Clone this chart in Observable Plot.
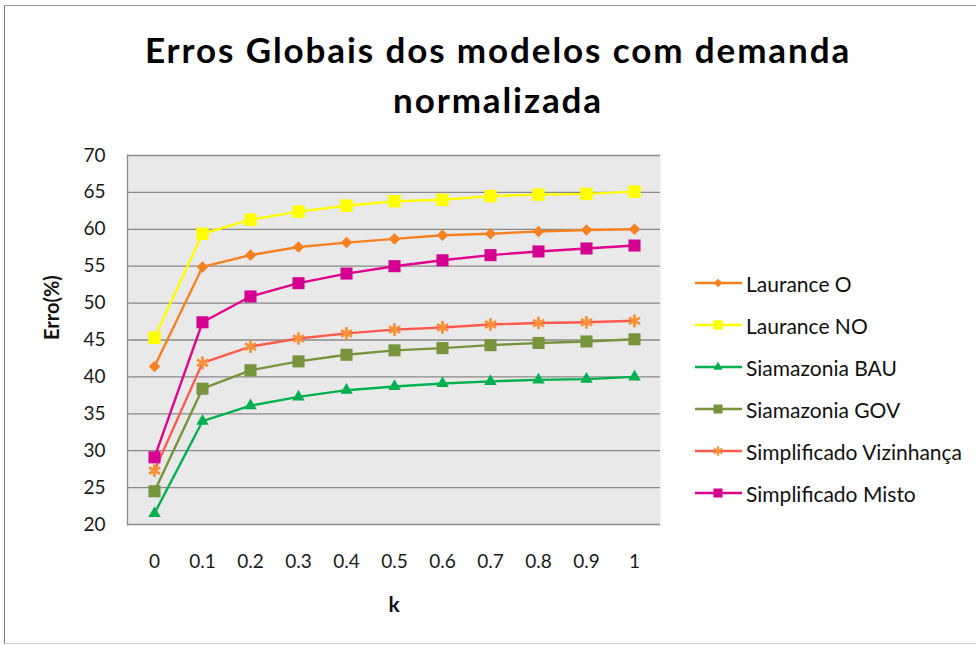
<!DOCTYPE html>
<html>
<head>
<meta charset="utf-8">
<script src="https://cdn.jsdelivr.net/npm/d3@7"></script>
<script src="https://cdn.jsdelivr.net/npm/@observablehq/plot@0.6"></script>
<style>
  html, body { margin: 0; padding: 0; background: #fff; }
  #wrap { position: relative; width: 976px; height: 645px; overflow: hidden; font-family: Lato, "Open Sans", sans-serif; }
  #border { position: absolute; left: 4px; top: 5px; width: 1000px; height: 637px; border-left: 1.5px solid #7a7a7a; border-top: 1.5px solid #9a9a9a; border-bottom: 1px solid #d0d0d0; }
  #title { position: absolute; left: 0; width: 996px; top: 24px; text-align: center; font-weight: bold; font-size: 35px; letter-spacing: 1.9px; line-height: 50px; color: #000; }
  #chart { position: absolute; left: 0; top: 0; }
  #legend { position: absolute; left: 693px; top: 262px; }
  .row { display: flex; align-items: center; height: 42px; font-size: 21px; color: #111; }
  .row svg { margin-right: 3px; }
</style>
</head>
<body>
<div id="wrap">
  <div id="border"></div>
  <div id="chart"></div>
  <div id="title">Erros Globais dos modelos com demanda<br>normalizada</div>
  <div id="legend"></div>
</div>
<script>
// ---- data ----
const ks = ["0", "0.1", "0.2", "0.3", "0.4", "0.5", "0.6", "0.7", "0.8", "0.9", "1"];
const laurO  = [41.4, 54.9, 56.5, 57.6, 58.2, 58.7, 59.2, 59.4, 59.7, 59.9, 60.0];
const laurNO = [45.3, 59.4, 61.3, 62.4, 63.2, 63.8, 64.0, 64.5, 64.7, 64.8, 65.1];
const siaBAU = [21.5, 34.0, 36.1, 37.3, 38.2, 38.7, 39.1, 39.4, 39.6, 39.7, 40.0];
const siaGOV = [24.5, 38.4, 40.9, 42.1, 43.0, 43.6, 43.9, 44.3, 44.6, 44.8, 45.1];
const simViz = [27.3, 41.9, 44.1, 45.2, 45.9, 46.4, 46.7, 47.1, 47.3, 47.4, 47.6];
const simMis = [29.1, 47.4, 50.9, 52.7, 54.0, 55.0, 55.8, 56.5, 57.0, 57.4, 57.8];
const seriesNames = ["Laurance O", "Laurance NO", "Siamazonia BAU", "Siamazonia GOV", "Simplificado Vizinhança", "Simplificado Misto"];
const seriesValues = [laurO, laurNO, siaBAU, siaGOV, simViz, simMis];
const yTicks = [20, 25, 30, 35, 40, 45, 50, 55, 60, 65, 70];
const title = "Erros Globais dos modelos com demanda normalizada";
const yLabel = "Erro(%)";
const xLabel = "k";

// ---- styles ----
const styles = [
  {line: "#f58220", fill: "#f58220", stroke: "none", symbol: "diamond2", r: 5.2},
  {line: "#ffff00", fill: "#ffff00", stroke: "none", symbol: "square", r: 7},
  {line: "#00b050", fill: "#00b050", stroke: "none", symbol: "triangle", r: 4.6},
  {line: "#77933c", fill: "#77933c", stroke: "none", symbol: "square", r: 6.8},
  {line: "#ff5a4e", fill: "none", stroke: "#f7923a", symbol: "asterisk", r: 6},
  {line: "#e0008c", fill: "#d4008f", stroke: "none", symbol: "square", r: 6.8}
];

const marks = [
  Plot.frame({fill: "#e9e9e9", stroke: null}),
  Plot.gridY(yTicks, {stroke: "#8a8a8a", strokeOpacity: 1, strokeWidth: 1.3}),
  Plot.frame({anchor: "left", stroke: "#8a8a8a", strokeWidth: 1.3}),
  Plot.axisY(yTicks, {tickSize: 0, tickPadding: 22, fontSize: 19, fill: "#1a1a1a", label: null}),
  Plot.axisX({tickSize: 0, tickPadding: 30, fontSize: 19, fill: "#1a1a1a", label: null}),
  Plot.text([yLabel], {frameAnchor: "left", dx: -75, rotate: -90, fontWeight: "bold", fontSize: 20, fill: "#111"}),
  Plot.text([xLabel], {frameAnchor: "bottom", dy: 87, fontWeight: "bold", fontSize: 21, fill: "#111"})
];

seriesValues.forEach((vals, i) => {
  const data = ks.map((k, j) => ({k, v: vals[j]}));
  const s = styles[i];
  marks.push(Plot.line(data, {x: "k", y: "v", stroke: s.line, strokeWidth: 2.4}));
  marks.push(Plot.dot(data, {x: "k", y: "v", symbol: () => s.symbol, r: s.r, fill: s.fill, stroke: s.stroke, strokeWidth: s.symbol === "asterisk" ? 2.8 : 0}));
});

const plot = Plot.plot({
  width: 976,
  height: 645,
  marginLeft: 127,
  marginRight: 316,
  marginTop: 155,
  marginBottom: 121,
  style: {fontFamily: "Lato, 'Open Sans', sans-serif", background: "transparent", overflow: "visible"},
  x: {type: "point", domain: ks, padding: 0.5, axis: null},
  y: {domain: [20, 70], axis: null},
  symbol: {type: "identity"},
  marks
});
document.getElementById("chart").appendChild(plot);

// ---- legend ----
const legend = d3.select("#legend");
const symMap = {diamond2: d3.symbolDiamond2, square: d3.symbolSquare, triangle: d3.symbolTriangle, asterisk: d3.symbolAsterisk};
seriesNames.forEach((name, i) => {
  const s = styles[i];
  const row = legend.append("div").attr("class", "row");
  const svg = row.append("svg").attr("width", 50).attr("height", 20);
  svg.append("line").attr("x1", 2).attr("x2", 49).attr("y1", 10).attr("y2", 10).attr("stroke", s.line).attr("stroke-width", 2.3);
  const lr = s.r * 0.75;
  svg.append("path").attr("transform", "translate(25,10)")
    .attr("d", d3.symbol(symMap[s.symbol], Math.PI * lr * lr)())
    .attr("fill", s.fill).attr("stroke", s.stroke).attr("stroke-width", s.symbol === "asterisk" ? 2.2 : 0);
  row.append("span").text(name);
});
</script>
</body>
</html>
